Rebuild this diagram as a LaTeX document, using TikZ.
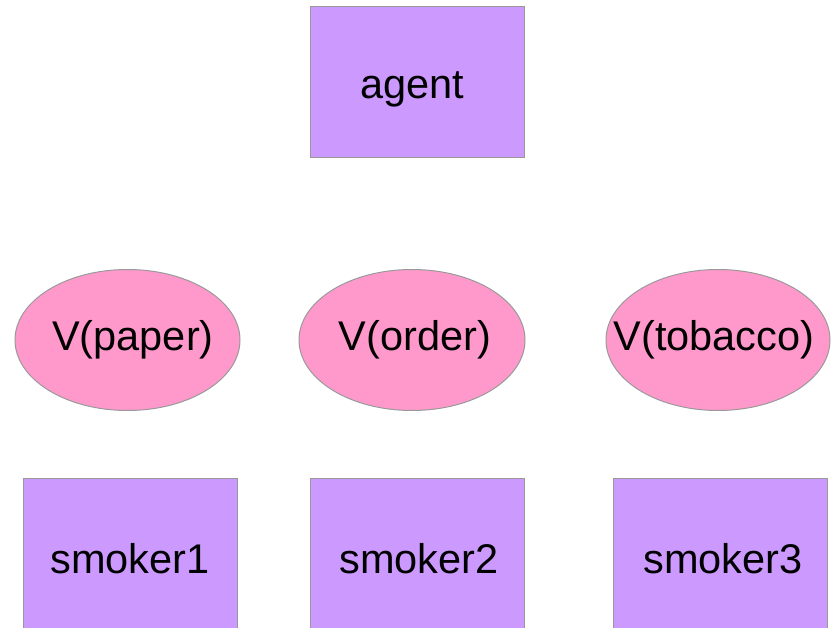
\documentclass[tikz,border=0pt]{standalone}
\usepackage{fontspec}
\setmainfont{Liberation Sans}
\usetikzlibrary{shapes.geometric}
\definecolor{boxfill}{HTML}{CC99FF}
\definecolor{ellfill}{HTML}{FF99CC}
\definecolor{edge}{HTML}{999999}
\tikzset{
  lbl/.style={font=\fontsize{41.5}{48}\selectfont, inner sep=0pt, anchor=base},
  procbox/.style={rectangle, draw=edge, fill=boxfill, line width=1pt, inner sep=0pt,
    minimum width=214pt, minimum height=151pt},
  varell/.style={ellipse, draw=edge, fill=ellfill, line width=1pt, inner sep=0pt,
    minimum width=225pt, minimum height=141pt}
}
\begin{document}
\begin{tikzpicture}[x=1pt,y=-1pt]
\useasboundingbox (0,0) rectangle (831,628);
\begin{scope}
\clip (0,0) rectangle (831,628);
\node[procbox] (agent) at (417,82.5) {};
\node[lbl] (agentt) at (412.5,99) {agent};
\node[varell] (vpaper) at (127.5,340) {};
\node[lbl] (vpapert) at (133,351) {V(paper)};
\node[varell, minimum width=226pt] (vorder) at (412,340) {};
\node[lbl] (vordert) at (415,351) {V(order)};
\node[varell, minimum width=224pt] (vtobacco) at (718,340) {};
\node[lbl] (vtobaccot) at (714,351) {V(tobacco)};
\node[procbox] (s1) at (130,554) {};
\node[lbl] (s1t) at (130,573) {smoker1};
\node[procbox] (s2) at (417,554) {};
\node[lbl] (s2t) at (419,573) {smoker2};
\node[procbox] (s3) at (720,554) {};
\node[lbl] (s3t) at (723,573) {smoker3};
\end{scope}
\end{tikzpicture}
\end{document}
